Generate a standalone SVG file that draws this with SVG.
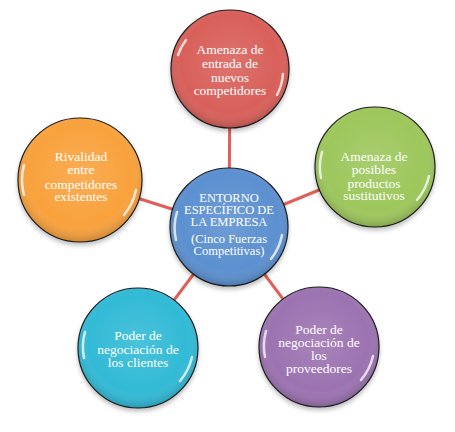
<svg xmlns="http://www.w3.org/2000/svg" width="455" height="432" viewBox="0 0 455 432">
<defs>
<radialGradient id="shade" cx="0.5" cy="0.45" r="0.55">
<stop offset="0" stop-color="#fff" stop-opacity="0.12"/>
<stop offset="0.75" stop-color="#fff" stop-opacity="0"/>
<stop offset="1" stop-color="#000" stop-opacity="0.18"/>
</radialGradient>
<filter id="sh" x="-20%" y="-20%" width="140%" height="140%">
<feGaussianBlur in="SourceAlpha" stdDeviation="2"/>
<feOffset dx="0" dy="3" result="b"/>
<feComponentTransfer><feFuncA type="linear" slope="0.25"/></feComponentTransfer>
<feMerge><feMergeNode/><feMergeNode in="SourceGraphic"/></feMerge>
</filter>
</defs>
<style>
.c{stroke:#1a1a1a;stroke-width:1.2;filter:url(#sh)}
.o{fill:url(#shade)}
.hl{fill:none;stroke:#fff;stroke-width:2.5;stroke-opacity:0.75;stroke-linecap:round}
.t{font-family:"Liberation Serif","DejaVu Serif",serif;font-size:13.5px;fill:#fff;text-anchor:middle}
.tc{font-size:12.5px}
.con{stroke:#df5f5a;stroke-width:3;fill:none}
</style>
<g id="connectors">
<line class="con" x1="229" y1="227" x2="230" y2="69"/>
<line class="con" x1="229" y1="227" x2="80" y2="180"/>
<line class="con" x1="229" y1="227" x2="375" y2="167"/>
<line class="con" x1="229" y1="227" x2="138" y2="348"/>
<line class="con" x1="229" y1="227" x2="319" y2="347"/>
</g>
<g id="n-top">
<circle class="c" cx="230" cy="69" r="59" fill="#d9605a"/>
<circle class="o" cx="230" cy="69" r="59"/>
<path class="hl" d="M178 55 A54 54 0 0 1 186 40"/>
<path class="hl" d="M283 74 A54 54 0 0 1 277 95"/>
<text class="t" x="230" y="54">Amenaza de</text>
<text class="t" x="230" y="68">entrada de</text>
<text class="t" x="230" y="82">nuevos</text>
<text class="t" x="230" y="95">competidores</text>
</g>
<g id="n-left">
<circle class="c" cx="80" cy="180" r="62" fill="#f9a23e"/>
<circle class="o" cx="80" cy="180" r="62"/>
<path class="hl" d="M24 195 A57 57 0 0 1 24 165"/>
<path class="hl" d="M136 190 A57 57 0 0 1 124 215"/>
<text class="t" x="81" y="161">Rivalidad</text>
<text class="t" x="81" y="174">entre</text>
<text class="t" x="81" y="189">competidores</text>
<text class="t" x="81" y="201">existentes</text>
</g>
<g id="n-right">
<circle class="c" cx="375" cy="167" r="60" fill="#9dc75c"/>
<circle class="o" cx="375" cy="167" r="60"/>
<path class="hl" d="M321 178 A55 55 0 0 1 322 152"/>
<path class="hl" d="M429 176 A55 55 0 0 1 417 200"/>
<text class="t" x="374" y="161">Amenaza de</text>
<text class="t" x="374" y="174">posibles</text>
<text class="t" x="374" y="188">productos</text>
<text class="t" x="374" y="200">sustitutivos</text>
</g>
<g id="n-bl">
<circle class="c" cx="138" cy="348" r="60" fill="#33bad6"/>
<circle class="o" cx="138" cy="348" r="60"/>
<path class="hl" d="M84 358 A55 55 0 0 1 85 332"/>
<path class="hl" d="M192 357 A55 55 0 0 1 180 381"/>
<text class="t" x="138" y="340">Poder de</text>
<text class="t" x="138" y="354">negociación de</text>
<text class="t" x="138" y="367">los clientes</text>
</g>
<g id="n-br">
<circle class="c" cx="319" cy="347" r="60" fill="#9c73b1"/>
<circle class="o" cx="319" cy="347" r="60"/>
<path class="hl" d="M265 357 A55 55 0 0 1 266 331"/>
<path class="hl" d="M373 356 A55 55 0 0 1 361 380"/>
<text class="t" x="319" y="334">Poder de</text>
<text class="t" x="319" y="347">negociación de</text>
<text class="t" x="319" y="360">los</text>
<text class="t" x="319" y="373">proveedores</text>
</g>
<g id="n-center">
<circle class="c" cx="229" cy="227" r="59" fill="#5b90d0"/>
<circle class="o" cx="229" cy="227" r="59"/>
<path class="hl" d="M176 240 A54 54 0 0 1 177 212"/>
<path class="hl" d="M282 235 A54 54 0 0 1 271 259"/>
<text class="t tc" x="229" y="202">ENTORNO</text>
<text class="t tc" x="229" y="214">ESPECÍFICO DE</text>
<text class="t tc" x="229" y="226">LA EMPRESA</text>
<text class="t tc" x="229" y="243">(Cinco Fuerzas</text>
<text class="t tc" x="229" y="255">Competitivas)</text>
</g>
</svg>
